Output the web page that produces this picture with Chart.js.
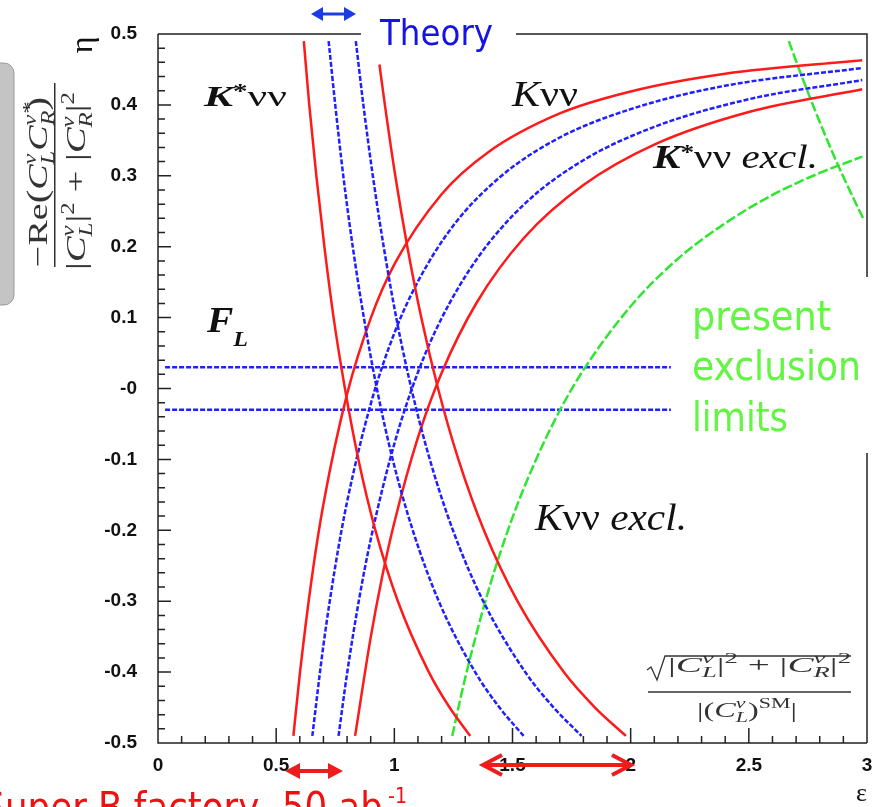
<!DOCTYPE html>
<html lang="en">
<head>
  <meta charset="UTF-8">
  <title>K nu nu / K* nu nu constraints in the (epsilon, eta) plane</title>
  <script src="https://cdn.jsdelivr.net/npm/chart.js"></script>
  <style>
    html, body { margin: 0; background: #fff; overflow: hidden; }
    #wrap { position: relative; width: 881px; height: 807px; }
  </style>
</head>
<body>
  <div id="wrap"><canvas id="chart"></canvas></div>
  <script>
    const SERIF = '"Liberation Serif", "DejaVu Serif", serif';
    const SANS = '"DejaVu Sans Condensed", "DejaVu Sans", sans-serif';

    // axis ticks
    const xTickValues = [0, 0.5, 1, 1.5, 2, 2.5, 3];
    const xTickLabels = ['0', '0.5', '1', '1.5', '2', '2.5', '3'];
    const yTickValues = [0.5, 0.4, 0.3, 0.2, 0.1, 0, -0.1, -0.2, -0.3, -0.4, -0.5];
    const yTickLabels = ['0.5', '0.4', '0.3', '0.2', '0.1', '-0', '-0.1', '-0.2', '-0.3', '-0.4', '-0.5'];

    // K* nu nu bands (eps read at fixed eta)
    const kstarEta = [0.49, 0.4, 0.3, 0.2, 0.1, 0, -0.1, -0.2, -0.3, -0.4, -0.45, -0.49];
    const kstarRedInnerEps = [0.617, 0.640, 0.670, 0.704, 0.743, 0.791, 0.848, 0.920, 1.015, 1.146, 1.234, 1.321];
    const kstarBlueInnerEps = [0.722, 0.750, 0.784, 0.824, 0.871, 0.926, 0.993, 1.078, 1.188, 1.342, 1.445, 1.547];
    const kstarBlueOuterEps = [0.837, 0.869, 0.909, 0.955, 1.008, 1.072, 1.150, 1.248, 1.376, 1.554, 1.674, 1.792];
    const kstarRedOuterEta = [0.457, 0.4, 0.3, 0.2, 0.1, 0, -0.1, -0.2, -0.3, -0.4, -0.45, -0.49];
    const kstarRedOuterEps = [0.937, 0.960, 1.004, 1.055, 1.114, 1.185, 1.271, 1.379, 1.521, 1.717, 1.849, 1.980];

    // K nu nu bands
    const kRedUpperEps = [0.573, 0.6, 0.65, 0.7, 0.8, 0.9, 1.0, 1.2, 1.4, 1.7, 2.0, 2.4, 2.98];
    const kRedUpperEta = [-0.49, -0.403, -0.269, -0.163, -0.008, 0.099, 0.175, 0.274, 0.334, 0.388, 0.419, 0.444, 0.463];
    const kBlueUpperEps = [0.653, 0.7, 0.75, 0.8, 0.9, 1.0, 1.1, 1.25, 1.45, 1.7, 2.0, 2.4, 2.98];
    const kBlueUpperEta = [-0.49, -0.362, -0.251, -0.160, -0.022, 0.078, 0.151, 0.230, 0.299, 0.354, 0.394, 0.427, 0.452];
    const kBlueLowerEps = [0.764, 0.8, 0.85, 0.9, 1.0, 1.1, 1.2, 1.35, 1.55, 1.8, 2.1, 2.5, 2.98];
    const kBlueLowerEta = [-0.49, -0.402, -0.299, -0.213, -0.078, 0.023, 0.099, 0.183, 0.260, 0.322, 0.369, 0.408, 0.435];
    const kRedLowerEps = [0.834, 0.9, 0.95, 1.0, 1.1, 1.2, 1.35, 1.55, 1.8, 2.1, 2.5, 2.98];
    const kRedLowerEta = [-0.49, -0.351, -0.263, -0.189, -0.069, 0.022, 0.122, 0.213, 0.287, 0.344, 0.390, 0.422];

    // present exclusion limits
    const kExclEps = [1.245, 1.3, 1.4, 1.5, 1.6, 1.7, 1.8, 2.0, 2.2, 2.4, 2.6, 2.8, 2.98];
    const kExclEta = [-0.49, -0.408, -0.283, -0.182, -0.100, -0.031, 0.026, 0.116, 0.183, 0.233, 0.273, 0.304, 0.327];
    const kstarExclEps = [2.669, 2.713, 2.771, 2.832, 2.898, 2.969, 2.987];
    const kstarExclEta = [0.49, 0.45, 0.4, 0.35, 0.3, 0.25, 0.238];

    // F_L band
    const flEps = [0.03, 2.17];
    const flUpperEta = [0.03, 0.03];
    const flLowerEta = [-0.03, -0.03];

    const RED = '#ff1a1a', BLUE = '#1f1fff', GREEN = '#2ee62e';
    const pts = (xs, ys) => xs.map((x, i) => ({ x, y: ys[i] }));

    function curve(data, color, width, dash) {
      return {
        data, borderColor: color, borderWidth: width, borderDash: dash || [],
        showLine: true, pointRadius: 0, pointHoverRadius: 0, fill: false,
        cubicInterpolationMode: 'monotone'
      };
    }

    // text helpers: runs of differently styled text, optionally squeezed to a width
    function runsWidth(ctx, runs) {
      let w = 0;
      runs.forEach(r => { ctx.font = r.f; if (!r.stack) w += ctx.measureText(r.t).width; });
      return w;
    }
    function drawRuns(ctx, runs, x, y, color, width) {
      ctx.save();
      ctx.translate(x, y);
      if (width) ctx.scale(width / runsWidth(ctx, runs), 1);
      ctx.fillStyle = color;
      ctx.textAlign = 'left';
      ctx.textBaseline = 'alphabetic';
      let cx = 0;
      runs.forEach(r => {
        ctx.font = r.f;
        ctx.fillText(r.t, cx, r.dy || 0);
        if (!r.stack) cx += ctx.measureText(r.t).width;
      });
      ctx.restore();
    }
    const S = (t, size, style, dy, stack) => ({ t, f: `${style || ''} ${size}px ${SERIF}`, dy, stack });

    function arrow(ctx, x1, x2, y, color, lw, hl, hh, open) {
      ctx.save();
      ctx.strokeStyle = color; ctx.fillStyle = color; ctx.lineWidth = lw;
      ctx.beginPath();
      ctx.moveTo(open ? x1 + 2 : x1 + hl, y);
      ctx.lineTo(open ? x2 - 2 : x2 - hl, y);
      ctx.stroke();
      [[x1, 1], [x2, -1]].forEach(([tx, d]) => {
        ctx.beginPath();
        ctx.moveTo(tx + d * hl, y - hh);
        ctx.lineTo(tx, y);
        ctx.lineTo(tx + d * hl, y + hh);
        if (open) ctx.stroke(); else { ctx.closePath(); ctx.fill(); }
      });
      ctx.restore();
    }

    const decor = {
      id: 'decor',
      beforeDraw(chart) {
        const ctx = chart.ctx;
        // grey box behind the y title
        ctx.save();
        ctx.fillStyle = '#c4c4c4';
        ctx.strokeStyle = '#9a9a9a';
        ctx.beginPath();
        ctx.roundRect(-12, 63, 26, 242, 10);
        ctx.fill();
        ctx.stroke();
        ctx.restore();
      },
      afterDatasetsDraw(chart) {
        const { ctx, chartArea: a, scales: { x, y } } = chart;
        ctx.save();
        ctx.strokeStyle = '#222';
        ctx.lineWidth = 1.5;
        ctx.beginPath();
        ctx.moveTo(a.left, a.top); ctx.lineTo(a.left, a.bottom); ctx.lineTo(a.right, a.bottom);
        // frame is broken where the slide labels sit on it
        ctx.moveTo(a.left, a.top); ctx.lineTo(361, a.top);
        ctx.moveTo(516, a.top); ctx.lineTo(a.right, a.top); ctx.lineTo(a.right, 277);
        ctx.moveTo(a.right, 453); ctx.lineTo(a.right, a.bottom);
        // inward ticks
        for (let i = 0; i <= 50; i++) {
          const py = y.getPixelForValue(-0.5 + i * 0.02);
          ctx.moveTo(a.left, py); ctx.lineTo(a.left + (i % 5 === 0 ? 13 : 7), py);
        }
        for (let i = 0; i <= 30; i++) {
          const px = x.getPixelForValue(i * 0.1);
          ctx.moveTo(px, a.bottom); ctx.lineTo(px, a.bottom - (i % 5 === 0 ? 15 : 7));
        }
        ctx.stroke();
        ctx.restore();
      },
      afterDraw(chart) {
        const ctx = chart.ctx;
        const INK = '#111', FORM = '#333';

        // plot labels
        drawRuns(ctx, [S('K', 30, 'italic bold'), S('*', 20, 'bold', -8), S('νν', 30)], 204, 106, INK, 83);
        drawRuns(ctx, [S('K', 36, 'italic'), S('νν', 36)], 512, 106, INK, 66);
        drawRuns(ctx, [S('K', 33, 'italic bold'), S('*', 22, 'bold', -9), S('νν', 33), S(' excl.', 33, 'italic')], 653, 168, INK, 165);
        drawRuns(ctx, [S('K', 38, 'italic'), S('νν', 38), S(' excl.', 38, 'italic')], 535, 530, INK, 152);
        drawRuns(ctx, [S('F', 36, 'italic bold'), S('L', 22, 'italic bold', 14)], 207, 332, INK, 41);

        ctx.save();
        ctx.fillStyle = INK;
        ctx.font = `26px ${SERIF}`;
        ctx.textAlign = 'right';
        ctx.fillText('ε', 867, 801);
        ctx.restore();

        // eta title, rotated
        ctx.save();
        ctx.translate(89, 45);
        ctx.rotate(-Math.PI / 2);
        ctx.fillStyle = INK;
        ctx.font = `32px ${SERIF}`;
        ctx.textAlign = 'center';
        ctx.fillText('η', 0, 2.5);
        ctx.restore();

        // y formula, rotated
        ctx.save();
        ctx.translate(0, 270);
        ctx.rotate(-Math.PI / 2);
        drawRuns(ctx, [
          S('−Re', 28), S('(', 30), S('C', 28, 'italic'), S('ν', 18, 'italic', -11, true), S('L', 18, 'italic', 7),
          S('C', 28, 'italic'), S('ν*', 18, 'italic', -11, true), S('R', 18, 'italic', 7), S(')', 30)
        ], 3, 47, FORM, 170);
        drawRuns(ctx, [
          S('|', 28), S('C', 28, 'italic'), S('ν', 18, 'italic', -11, true), S('L', 18, 'italic', 7), S('|', 28), S('2', 18, '', -11),
          S(' + ', 28), S('|', 28), S('C', 28, 'italic'), S('ν', 18, 'italic', -11, true), S('R', 18, 'italic', 7), S('|', 28), S('2', 18, '', -11)
        ], 0, 85, FORM, 178);
        ctx.fillStyle = FORM;
        ctx.fillRect(3, 54, 184, 1.5);
        ctx.restore();

        // epsilon definition, bottom right
        drawRuns(ctx, [
          S('|', 22), S('C', 22, 'italic'), S('ν', 15, 'italic', -9, true), S('L', 15, 'italic', 5), S('|', 22), S('2', 15, '', -9),
          S(' + ', 22), S('|', 22), S('C', 22, 'italic'), S('ν', 15, 'italic', -9, true), S('R', 15, 'italic', 5), S('|', 22), S('2', 15, '', -9)
        ], 668, 672, FORM, 183);
        drawRuns(ctx, [
          S('|(', 22), S('C', 22, 'italic'), S('ν', 15, 'italic', -9, true), S('L', 15, 'italic', 5), S(')', 22), S('SM', 15, '', -9), S('|', 22)
        ], 697, 717, FORM, 100);
        ctx.save();
        ctx.strokeStyle = FORM;
        ctx.lineWidth = 1.3;
        ctx.beginPath();
        ctx.moveTo(647, 670); ctx.lineTo(651, 667); ctx.lineTo(657, 680); ctx.lineTo(665, 656); ctx.lineTo(851, 656);
        ctx.moveTo(648, 692); ctx.lineTo(851, 692);
        ctx.stroke();
        ctx.restore();

        // slide annotations
        drawRuns(ctx, [{ t: 'Theory', f: `36px ${SANS}` }], 380, 45, '#1414e6', 113);
        arrow(ctx, 311, 356, 14, '#1a3ce6', 3, 12, 7, false);

        const LIME = '#62f542';
        drawRuns(ctx, [{ t: 'present', f: `40px ${SANS}` }], 692, 330, LIME, 139);
        drawRuns(ctx, [{ t: 'exclusion', f: `40px ${SANS}` }], 692, 380, LIME, 169);
        drawRuns(ctx, [{ t: 'limits', f: `40px ${SANS}` }], 692, 431, LIME, 96);

        const RED_TXT = '#ee1111';
        ctx.font = `40px ${SANS}`;
        const wS = ctx.measureText('S').width;
        const wRest = ctx.measureText('uper B factory, 50 ab').width;
        const k = 378 / wRest;
        drawRuns(ctx, [{ t: 'Super B factory, 50 ab', f: `40px ${SANS}` }], 5 - k * wS, 821, RED_TXT, k * (wS + wRest));
        drawRuns(ctx, [{ t: '-1', f: `22px ${SANS}` }], 388, 803, RED_TXT, 19);
        arrow(ctx, 285, 343, 771, '#ee1c1c', 4, 15, 8, false);
        arrow(ctx, 483, 631, 765, '#ee1c1c', 4, 19, 10, true);
      }
    };

    const tickFont = { family: '"Liberation Sans", Arial, sans-serif', weight: 'bold', size: 19 };

    new Chart(document.getElementById('chart'), {
      type: 'scatter',
      data: {
        datasets: [
          curve(pts(kstarRedInnerEps, kstarEta), RED, 2.5),
          curve(pts(kstarBlueInnerEps, kstarEta), BLUE, 2.5, [5, 2]),
          curve(pts(kstarBlueOuterEps, kstarEta), BLUE, 2.5, [5, 2]),
          curve(pts(kstarRedOuterEps, kstarRedOuterEta), RED, 2.5),
          curve(pts(kRedUpperEps, kRedUpperEta), RED, 2.5),
          curve(pts(kBlueUpperEps, kBlueUpperEta), BLUE, 2.5, [5, 2]),
          curve(pts(kBlueLowerEps, kBlueLowerEta), BLUE, 2.5, [5, 2]),
          curve(pts(kRedLowerEps, kRedLowerEta), RED, 2.5),
          curve(pts(kExclEps, kExclEta), GREEN, 2.5, [10, 3]),
          curve(pts(kstarExclEps, kstarExclEta), GREEN, 2.5, [10, 3]),
          curve(pts(flEps, flUpperEta), BLUE, 2.5, [5, 2]),
          curve(pts(flEps, flLowerEta), BLUE, 2.5, [5, 2])
        ]
      },
      options: {
        responsive: true,
        maintainAspectRatio: false,
        animation: false,
        events: [],
        layout: { padding: { top: 34, right: 14, left: 0, bottom: 0 } },
        plugins: { legend: { display: false }, tooltip: { enabled: false } },
        scales: {
          x: {
            type: 'linear', min: 0, max: 3,
            grid: { display: false, drawTicks: false, tickLength: 0 },
            border: { display: false },
            afterBuildTicks: s => { s.ticks = xTickValues.map(v => ({ value: v })); },
            afterFit: s => { s.height = 64; s.paddingLeft = 0; s.paddingRight = 0; },
            ticks: {
              autoSkip: false, maxRotation: 0, padding: 11, color: '#111', font: tickFont,
              callback: v => xTickLabels[xTickValues.findIndex(t => Math.abs(t - v) < 1e-9)]
            }
          },
          y: {
            type: 'linear', min: -0.5, max: 0.5,
            grid: { display: false, drawTicks: false, tickLength: 0 },
            border: { display: false },
            afterBuildTicks: s => { s.ticks = yTickValues.map(v => ({ value: v })); },
            afterFit: s => { s.width = 158; },
            ticks: {
              autoSkip: false, padding: 21, color: '#111', font: tickFont,
              callback: v => yTickLabels[yTickValues.findIndex(t => Math.abs(t - v) < 1e-9)]
            }
          }
        }
      },
      plugins: [decor]
    });
  </script>
</body>
</html>
